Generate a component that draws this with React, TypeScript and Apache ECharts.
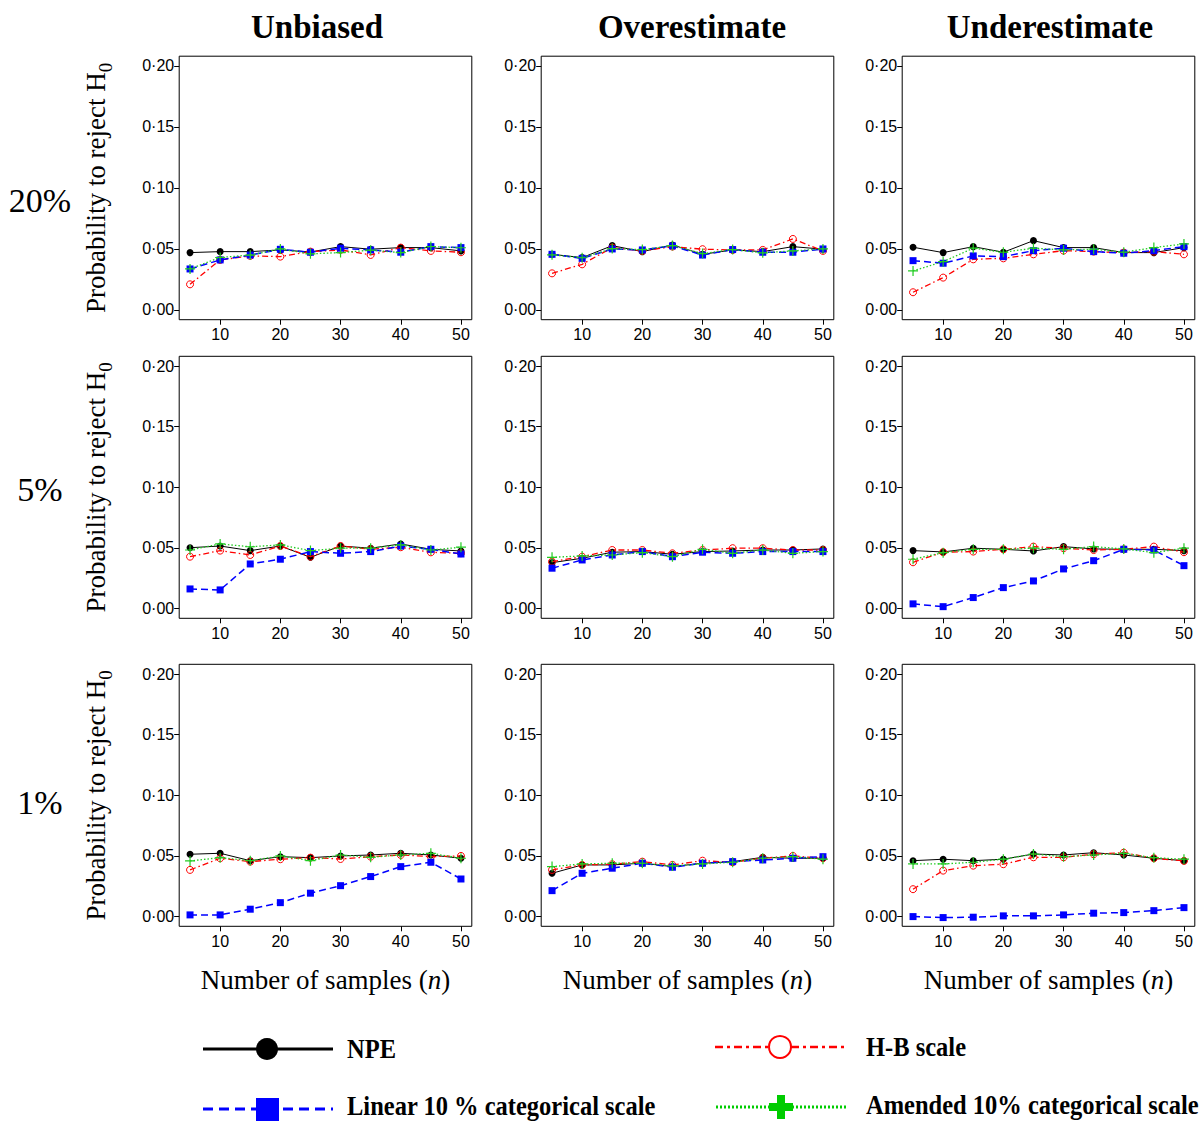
import React, { useEffect, useRef } from "react";
import * as echarts from "echarts";

// Number of samples (n)
const N_VALUES = [5, 10, 15, 20, 25, 30, 35, 40, 45, 50];
const Y_TICKS = [0, 0.05, 0.1, 0.15, 0.2];
const X_TICKS = [10, 20, 30, 40, 50];
const COLUMN_TITLES = ["Unbiased", "Overestimate", "Underestimate"];
const ROW_LABELS = ["20%", "5%", "1%"];
const SERIES_NAMES = ["NPE", "H-B scale", "Linear 10 % categorical scale", "Amended 10% categorical scale"];

// Row 20%
const unb20_npe = [0.047, 0.0478, 0.0478, 0.0492, 0.0475, 0.0519, 0.0498, 0.0511, 0.0511, 0.0484];
const unb20_hb = [0.021, 0.041, 0.0443, 0.0437, 0.0478, 0.0492, 0.0451, 0.0511, 0.0484, 0.0473];
const unb20_lin = [0.0336, 0.041, 0.045, 0.0497, 0.0473, 0.0506, 0.0492, 0.0473, 0.0519, 0.0511];
const unb20_amd = [0.0336, 0.043, 0.045, 0.05, 0.046, 0.047, 0.049, 0.047, 0.052, 0.051];

const ove20_npe = [0.0456, 0.0429, 0.0527, 0.0478, 0.0533, 0.0456, 0.0492, 0.0478, 0.0519, 0.0498];
const ove20_hb = [0.030, 0.0374, 0.0511, 0.0484, 0.0519, 0.0498, 0.0492, 0.0492, 0.0582, 0.0484];
const ove20_lin = [0.0456, 0.0423, 0.050, 0.0492, 0.0525, 0.045, 0.0495, 0.0473, 0.0473, 0.050];
const ove20_amd = [0.0452, 0.0428, 0.0503, 0.0495, 0.0528, 0.0462, 0.0495, 0.0468, 0.0484, 0.050];

const und20_npe = [0.0514, 0.047, 0.0519, 0.0473, 0.0568, 0.0511, 0.0511, 0.047, 0.047, 0.0511];
const und20_hb = [0.0145, 0.0265, 0.0415, 0.0423, 0.0456, 0.0486, 0.0478, 0.047, 0.0478, 0.0456];
const und20_lin = [0.0404, 0.0383, 0.0443, 0.0437, 0.0486, 0.0506, 0.0478, 0.0465, 0.0486, 0.0519];
const und20_amd = [0.032, 0.0396, 0.0506, 0.0473, 0.0506, 0.0492, 0.0498, 0.0473, 0.0511, 0.0541];

// Row 5%
const unb5_npe = [0.0502, 0.0516, 0.0478, 0.0516, 0.0423, 0.0516, 0.0498, 0.0533, 0.0489, 0.0475];
const unb5_hb = [0.0428, 0.0478, 0.0442, 0.0516, 0.0428, 0.0516, 0.0489, 0.0506, 0.0464, 0.0456];
const unb5_lin = [0.0162, 0.0154, 0.0368, 0.0407, 0.047, 0.0456, 0.047, 0.0516, 0.0489, 0.045];
const unb5_amd = [0.0483, 0.0533, 0.051, 0.0525, 0.0478, 0.0498, 0.0498, 0.0525, 0.0483, 0.0506];

const ove5_npe = [0.0379, 0.0415, 0.0465, 0.047, 0.0448, 0.047, 0.0475, 0.0483, 0.0483, 0.0492];
const ove5_hb = [0.0387, 0.0428, 0.0483, 0.0483, 0.0456, 0.0483, 0.0498, 0.0498, 0.0483, 0.0483];
const ove5_lin = [0.0333, 0.0401, 0.0442, 0.047, 0.0428, 0.0465, 0.0456, 0.047, 0.047, 0.047];
const ove5_amd = [0.0423, 0.0434, 0.0442, 0.0461, 0.0428, 0.0489, 0.0456, 0.0483, 0.0456, 0.047];

const und5_npe = [0.0478, 0.0467, 0.0498, 0.0489, 0.0475, 0.0511, 0.0492, 0.0489, 0.0489, 0.0478];
const und5_hb = [0.0382, 0.0465, 0.047, 0.0489, 0.0511, 0.0498, 0.0483, 0.0489, 0.0511, 0.0465];
const und5_lin = [0.0039, 0.0016, 0.0091, 0.0173, 0.0228, 0.0327, 0.0395, 0.0489, 0.0483, 0.0354];
const und5_amd = [0.0407, 0.0461, 0.0489, 0.0489, 0.0498, 0.0489, 0.0511, 0.0492, 0.0461, 0.0498];

// Row 1%
const unb1_npe = [0.0514, 0.0522, 0.0461, 0.0494, 0.0486, 0.05, 0.0508, 0.0522, 0.0508, 0.0481];
const unb1_hb = [0.0385, 0.0481, 0.0453, 0.0473, 0.0486, 0.0475, 0.0494, 0.0508, 0.0494, 0.05];
const unb1_lin = [0.0014, 0.0014, 0.0061, 0.0115, 0.0193, 0.0255, 0.033, 0.0412, 0.0448, 0.031];
const unb1_amd = [0.0459, 0.0486, 0.0461, 0.05, 0.0461, 0.0508, 0.0489, 0.0508, 0.0522, 0.0481];

const ove1_npe = [0.0357, 0.0426, 0.0426, 0.044, 0.0412, 0.044, 0.0453, 0.0489, 0.0481, 0.0481];
const ove1_hb = [0.0385, 0.0426, 0.0432, 0.0453, 0.0426, 0.0461, 0.0448, 0.0481, 0.05, 0.0481];
const ove1_lin = [0.0214, 0.0357, 0.0399, 0.044, 0.0407, 0.044, 0.0453, 0.0467, 0.0481, 0.0494];
const ove1_amd = [0.0412, 0.0434, 0.044, 0.044, 0.0418, 0.0434, 0.0448, 0.0481, 0.0494, 0.0473];

const und1_npe = [0.0461, 0.0473, 0.0461, 0.0473, 0.0516, 0.0508, 0.0527, 0.0508, 0.0481, 0.0461];
const und1_hb = [0.0226, 0.0379, 0.042, 0.0432, 0.0489, 0.0489, 0.0514, 0.0527, 0.0481, 0.0459];
const und1_lin = [0.0, -0.0008, -0.0005, 0.0006, 0.0006, 0.0014, 0.0028, 0.0033, 0.0049, 0.0074];
const und1_amd = [0.0434, 0.0434, 0.0448, 0.0473, 0.0516, 0.0494, 0.0508, 0.0522, 0.0486, 0.0473];

const PANELS = [
  [unb20_npe, unb20_hb, unb20_lin, unb20_amd],
  [ove20_npe, ove20_hb, ove20_lin, ove20_amd],
  [und20_npe, und20_hb, und20_lin, und20_amd],
  [unb5_npe, unb5_hb, unb5_lin, unb5_amd],
  [ove5_npe, ove5_hb, ove5_lin, ove5_amd],
  [und5_npe, und5_hb, und5_lin, und5_amd],
  [unb1_npe, unb1_hb, unb1_lin, unb1_amd],
  [ove1_npe, ove1_hb, ove1_lin, ove1_amd],
  [und1_npe, und1_hb, und1_lin, und1_amd],
];

const SERIF = '"Liberation Serif", "Times New Roman", serif';
const SANS = '"Liberation Sans", Arial, sans-serif';
const RED = "#ff0000";
const BLUE = "#0000ff";
const GREEN = "#22cc22";
const PLUS_PATH = "path://M4.4,0H5.6V4.4H10V5.6H5.6V10H4.4V5.6H0V4.4H4.4Z";

const COL_LEFT = [179.2, 541.2, 902.2];
const COL_WIDTH = 292.6;
const ROW_TOP = [56.2, 356.3, 664.3];
const ROW_HEIGHT = [263.5, 262, 262];

function seriesStyle(k: number) {
  if (k === 0)
    return {
      symbol: "circle",
      symbolSize: 7,
      itemStyle: { color: "#000" },
      lineStyle: { color: "#000", width: 1, type: "solid" },
    };
  if (k === 1)
    return {
      symbol: "circle",
      symbolSize: 7,
      itemStyle: { color: "rgba(255,255,255,0)", borderColor: RED, borderWidth: 1 },
      lineStyle: { color: RED, width: 1.3, type: [6, 3, 1.5, 3] },
    };
  if (k === 2)
    return {
      symbol: "rect",
      symbolSize: 7,
      itemStyle: { color: BLUE },
      lineStyle: { color: BLUE, width: 1.5, type: [7, 4] },
    };
  return {
    symbol: PLUS_PATH,
    symbolSize: 10,
    itemStyle: { color: GREEN },
    lineStyle: { color: GREEN, width: 1.3, type: [1.5, 2] },
  };
}

function buildOption() {
  const grid: any[] = [];
  const xAxis: any[] = [];
  const yAxis: any[] = [];
  const series: any[] = [];
  const graphic: any[] = [];

  for (let r = 0; r < 3; r++) {
    for (let c = 0; c < 3; c++) {
      const idx = r * 3 + c;
      grid.push({
        left: COL_LEFT[c],
        top: ROW_TOP[r],
        width: COL_WIDTH,
        height: ROW_HEIGHT[r],
        show: true,
        borderColor: "#000",
        borderWidth: 1,
        backgroundColor: "transparent",
      });
      xAxis.push({
        type: "value",
        gridIndex: idx,
        min: 3.2,
        max: 51.8,
        axisLine: { show: false, onZero: false },
        splitLine: { show: false },
        axisTick: { show: true, customValues: X_TICKS, length: 5, lineStyle: { color: "#000" } },
        axisLabel: {
          customValues: X_TICKS,
          color: "#000",
          fontFamily: SANS,
          fontSize: 16,
          margin: 7,
        },
        name: r === 2 ? "{a|Number of samples (}{i|n}{a|)}" : "",
        nameLocation: "middle",
        nameGap: 40,
        nameTextStyle: {
          rich: {
            a: { fontFamily: SERIF, fontSize: 27, color: "#000" },
            i: { fontFamily: SERIF, fontSize: 27, fontStyle: "italic", color: "#000" },
          },
        },
      });
      yAxis.push({
        type: "value",
        gridIndex: idx,
        min: -0.008,
        max: 0.208,
        axisLine: { show: false },
        splitLine: { show: false },
        axisTick: { show: true, customValues: Y_TICKS, length: 5, lineStyle: { color: "#000" } },
        axisLabel: {
          customValues: Y_TICKS,
          color: "#000",
          fontFamily: SANS,
          fontSize: 16,
          margin: 5,
          formatter: (v: number) => v.toFixed(2).replace(".", "\u00B7"),
        },
        name: c === 0 ? "{a|Probability to reject H}{b|0}" : "",
        nameLocation: "middle",
        nameRotate: 90,
        nameGap: 64,
        nameTextStyle: {
          rich: {
            a: {
              fontFamily: SERIF,
              fontSize: 27,
              color: "#000",
              verticalAlign: "bottom",
              lineHeight: 34,
              padding: [0, 0, 6, 0],
            },
            b: { fontFamily: SERIF, fontSize: 19, color: "#000", verticalAlign: "bottom", lineHeight: 22 },
          },
        },
      });
      PANELS[idx].forEach((vals, k) => {
        series.push({
          type: "line",
          name: SERIES_NAMES[k],
          xAxisIndex: idx,
          yAxisIndex: idx,
          data: N_VALUES.map((n, i) => [n, vals[i]]),
          showSymbol: true,
          z: 2 + k,
          ...seriesStyle(k),
        });
      });
    }
  }

  const titleX = [317, 692, 1050];
  COLUMN_TITLES.forEach((t, i) => {
    graphic.push({
      type: "text",
      x: titleX[i],
      y: 27,
      style: {
        text: t,
        fontFamily: SERIF,
        fontWeight: "bold",
        fontSize: 33,
        fill: "#000",
        align: "center",
        verticalAlign: "middle",
      },
    });
  });
  const rowY = [200, 489, 802];
  ROW_LABELS.forEach((t, i) => {
    graphic.push({
      type: "text",
      x: 40,
      y: rowY[i],
      style: {
        text: t,
        fontFamily: SERIF,
        fontSize: 34,
        fill: "#000",
        align: "center",
        verticalAlign: "middle",
      },
    });
  });

  // Legend
  const legendText = (text: string, x: number, y: number) => ({
    type: "text",
    x,
    y,
    scaleY: 1.1,
    style: {
      text,
      fontFamily: SERIF,
      fontWeight: "bold",
      fontSize: 24.5,
      fill: "#000",
      align: "left",
      verticalAlign: "middle",
    },
  });
  // NPE
  graphic.push({ type: "line", shape: { x1: 203, y1: 1049, x2: 333, y2: 1049 }, style: { stroke: "#000", lineWidth: 3 } });
  graphic.push({ type: "circle", shape: { cx: 267, cy: 1049, r: 11 }, style: { fill: "#000" } });
  graphic.push(legendText(SERIES_NAMES[0], 347, 1049));
  // H-B
  graphic.push({
    type: "line",
    shape: { x1: 715, y1: 1047, x2: 845, y2: 1047 },
    style: { stroke: RED, lineWidth: 2.5, lineDash: [8, 4, 3, 4] },
  });
  graphic.push({ type: "circle", shape: { cx: 780, cy: 1047, r: 11 }, style: { fill: "#fff", stroke: RED, lineWidth: 2 } });
  graphic.push(legendText(SERIES_NAMES[1], 866, 1047));
  // Linear
  graphic.push({
    type: "line",
    shape: { x1: 203, y1: 1109, x2: 333, y2: 1109 },
    style: { stroke: BLUE, lineWidth: 3, lineDash: [10, 6] },
  });
  graphic.push({ type: "rect", shape: { x: 256, y: 1098, width: 23, height: 23 }, style: { fill: BLUE } });
  graphic.push(legendText(SERIES_NAMES[2], 347, 1106));
  // Amended
  graphic.push({
    type: "line",
    shape: { x1: 716, y1: 1107, x2: 846, y2: 1107 },
    style: { stroke: "#00cc00", lineWidth: 3, lineDash: [2, 2] },
  });
  graphic.push({ type: "rect", shape: { x: 769, y: 1103, width: 24, height: 8 }, style: { fill: "#00cc00" } });
  graphic.push({ type: "rect", shape: { x: 777, y: 1095, width: 8, height: 24 }, style: { fill: "#00cc00" } });
  graphic.push(legendText(SERIES_NAMES[3], 866, 1105));

  return {
    animation: false,
    backgroundColor: "#fff",
    grid,
    xAxis,
    yAxis,
    series,
    graphic,
  };
}

export default function App() {
  const ref = useRef<HTMLDivElement>(null);
  useEffect(() => {
    if (!ref.current) return;
    const chart = echarts.init(ref.current, undefined, { renderer: "svg" });
    chart.setOption(buildOption() as any);
    return () => chart.dispose();
  }, []);
  return (
    <div
      ref={ref}
      style={{ position: "absolute", left: 0, top: 0, width: 1201, height: 1121, background: "#fff" }}
    />
  );
}
